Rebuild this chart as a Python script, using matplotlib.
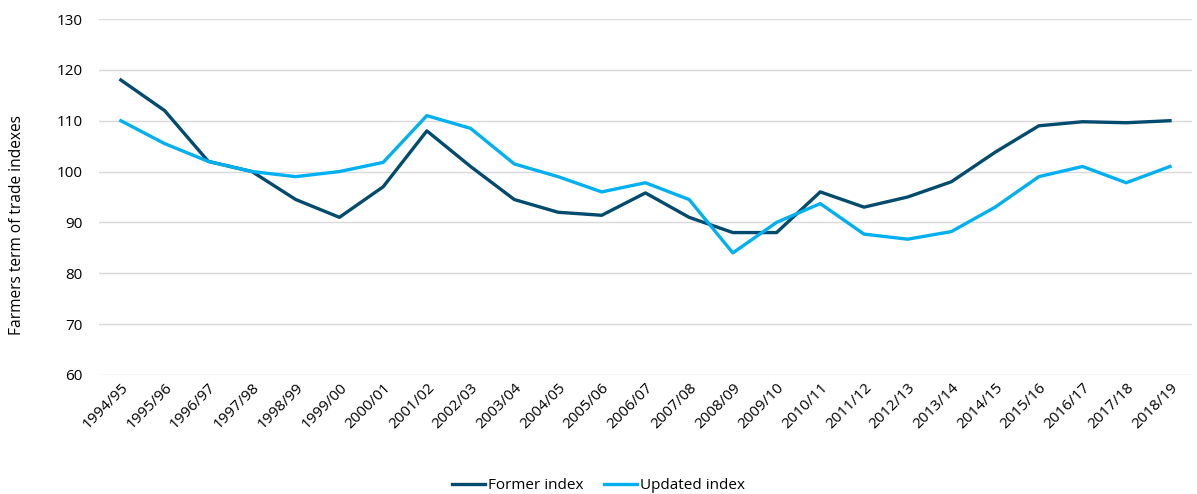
import matplotlib.pyplot as plt

seasons = ['1994/95', '1995/96', '1996/97', '1997/98', '1998/99', '1999/00',
           '2000/01', '2001/02', '2002/03', '2003/04', '2004/05', '2005/06',
           '2006/07', '2007/08', '2008/09', '2009/10', '2010/11', '2011/12',
           '2012/13', '2013/14', '2014/15', '2015/16', '2016/17', '2017/18',
           '2018/19']
former = [118, 112, 102, 100, 94.5, 91, 97, 108, 101, 94.5, 92, 91.4, 95.8,
          91, 88, 88, 96, 93, 95, 98, 103.8, 109, 109.8, 109.6, 110]
updated = [110, 105.5, 102, 100, 99, 100, 101.8, 111, 108.5, 101.5, 99, 96,
           97.8, 94.5, 84, 90, 93.7, 87.7, 86.7, 88.2, 93, 99, 101, 97.8, 101]

plt.rcParams['font.family'] = ['Open Sans', 'DejaVu Sans']

fig = plt.figure(figsize=(11.97, 4.94), dpi=100)
ax = fig.add_axes([0.0827, 0.241, 0.913, 0.7205])

x = range(len(seasons))
ax.plot(x, former, color='#004b6e', lw=2.4, label='Former index', solid_joinstyle='round')
ax.plot(x, updated, color='#00b0f0', lw=2.4, label='Updated index', solid_joinstyle='round')

ax.set_ylim(60, 130)
ax.set_yticks(range(60, 131, 10))
ax.set_xlim(-0.5, len(seasons) - 0.5)
ax.set_xticks(list(x))
ax.set_xticklabels(seasons, rotation=45, ha='right', rotation_mode='anchor')
ax.tick_params(length=0, labelsize=11)
ax.tick_params(axis='y', pad=12)
ax.tick_params(axis='x', pad=4)
ax.grid(axis='y', color='#d9d9d9', lw=1)
ax.set_axisbelow(True)
for s in ax.spines.values():
    s.set_visible(False)

ax.set_ylabel('Farmers term of trade indexes', fontsize=11.2)
ax.yaxis.set_label_coords(-0.068, 0.42)

fig.legend(loc='lower center', bbox_to_anchor=(0.5, -0.026), ncol=2, frameon=False,
           fontsize=11, handlelength=2.2, handletextpad=0.2, columnspacing=1.3)

fig.savefig('out.png', dpi=100)
